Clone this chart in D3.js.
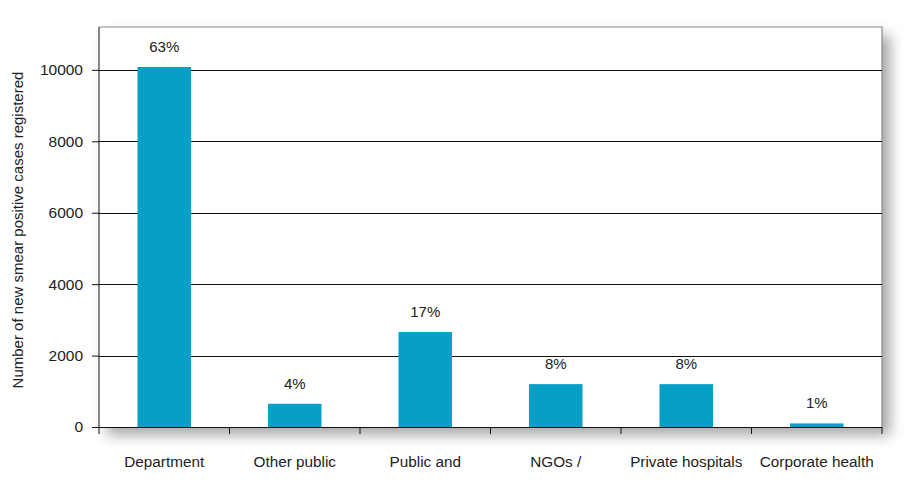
<!DOCTYPE html>
<html><head><meta charset="utf-8">
<script src="https://cdn.jsdelivr.net/npm/d3@7"></script>
<style>body{margin:0;background:#fff}svg{display:block;font-family:"Liberation Sans",Arial,sans-serif}</style>
</head><body><svg id="c" width="915" height="500"></svg>
<script>
const categories = ["Department", "Other public", "Public and", "NGOs /", "Private hospitals", "Corporate health"];
const cases = [10080, 650, 2660, 1200, 1200, 100];
const percentLabels = ["63%", "4%", "17%", "8%", "8%", "1%"];
const yTicks = [0, 2000, 4000, 6000, 8000, 10000];
const yTitle = "Number of new smear positive cases registered";

const svg = d3.select("#c");
const m = {l: 99, t: 27, r: 882, b: 427};
const x = d3.scaleBand().domain(categories).range([m.l, m.r]).paddingInner(0).paddingOuter(0);
const y = d3.scaleLinear().domain([0, 11200]).range([m.b, m.t]);

const defs = svg.append("defs");
const f = defs.append("filter").attr("id", "sh").attr("x", "-10%").attr("y", "-10%").attr("width", "130%").attr("height", "130%");
f.append("feDropShadow").attr("dx", 8).attr("dy", 8).attr("stdDeviation", 7).attr("flood-color", "#000").attr("flood-opacity", 0.35);

svg.append("rect").attr("x", m.l).attr("y", m.t).attr("width", m.r - m.l).attr("height", m.b - m.t)
  .attr("fill", "#fff").attr("filter", "url(#sh)");
svg.append("path").attr("d", `M${m.l},${m.t}H${m.r}V${m.b}`).attr("fill", "none").attr("stroke", "#8a8a8a").attr("stroke-width", 1.2);

svg.append("g").selectAll("line").data(yTicks.filter(d => d > 0)).join("line")
  .attr("x1", m.l).attr("x2", m.r).attr("y1", d => Math.round(y(d)) + 0.5).attr("y2", d => Math.round(y(d)) + 0.5)
  .attr("stroke", "#111").attr("stroke-width", 1);

const bw = x.bandwidth() * 0.41;
svg.append("g").selectAll("rect").data(categories).join("rect")
  .attr("x", (d) => x(d) + (x.bandwidth() - bw) / 2)
  .attr("y", (d, i) => y(cases[i]))
  .attr("width", bw)
  .attr("height", (d, i) => y(0) - y(cases[i]))
  .attr("fill", "#089fc6");

svg.append("g").selectAll("text").data(categories).join("text")
  .attr("x", d => x(d) + x.bandwidth() / 2)
  .attr("y", (d, i) => y(cases[i]) - 15)
  .attr("text-anchor", "middle").attr("font-size", 15).attr("fill", "#222")
  .text((d, i) => percentLabels[i]);

const ya = svg.append("g").attr("transform", `translate(${m.l},0)`)
  .call(d3.axisLeft(y).tickValues(yTicks).tickSize(7).tickPadding(9).tickFormat(d3.format("d")));
ya.select(".domain").remove();
ya.append("line").attr("x1", 0).attr("x2", 0).attr("y1", m.t).attr("y2", m.b).attr("stroke", "#111");
ya.selectAll("text").attr("font-size", 15.5).attr("fill", "#222").attr("font-family", "Liberation Sans, Arial, sans-serif");
ya.selectAll(".tick line").attr("stroke", "#111");

const bounds = categories.map(c => x(c)).concat([m.r]);
const xa = svg.append("g");
xa.append("line").attr("x1", m.l - 7).attr("x2", m.r).attr("y1", m.b + 0.5).attr("y2", m.b + 0.5).attr("stroke", "#111");
xa.selectAll("line.t").data(bounds).join("line").attr("class", "t")
  .attr("x1", d => d).attr("x2", d => d).attr("y1", m.b).attr("y2", m.b + 7).attr("stroke", "#111");
xa.selectAll("text").data(categories).join("text")
  .attr("x", d => x(d) + x.bandwidth() / 2).attr("y", 467)
  .attr("text-anchor", "middle").attr("font-size", 15.3).attr("fill", "#222").text(d => d);

svg.append("text").attr("transform", `translate(23,${(m.t + m.b) / 2 + 3}) rotate(-90)`)
  .attr("text-anchor", "middle").attr("font-size", 15).attr("fill", "#222").text(yTitle);
</script></body></html>
